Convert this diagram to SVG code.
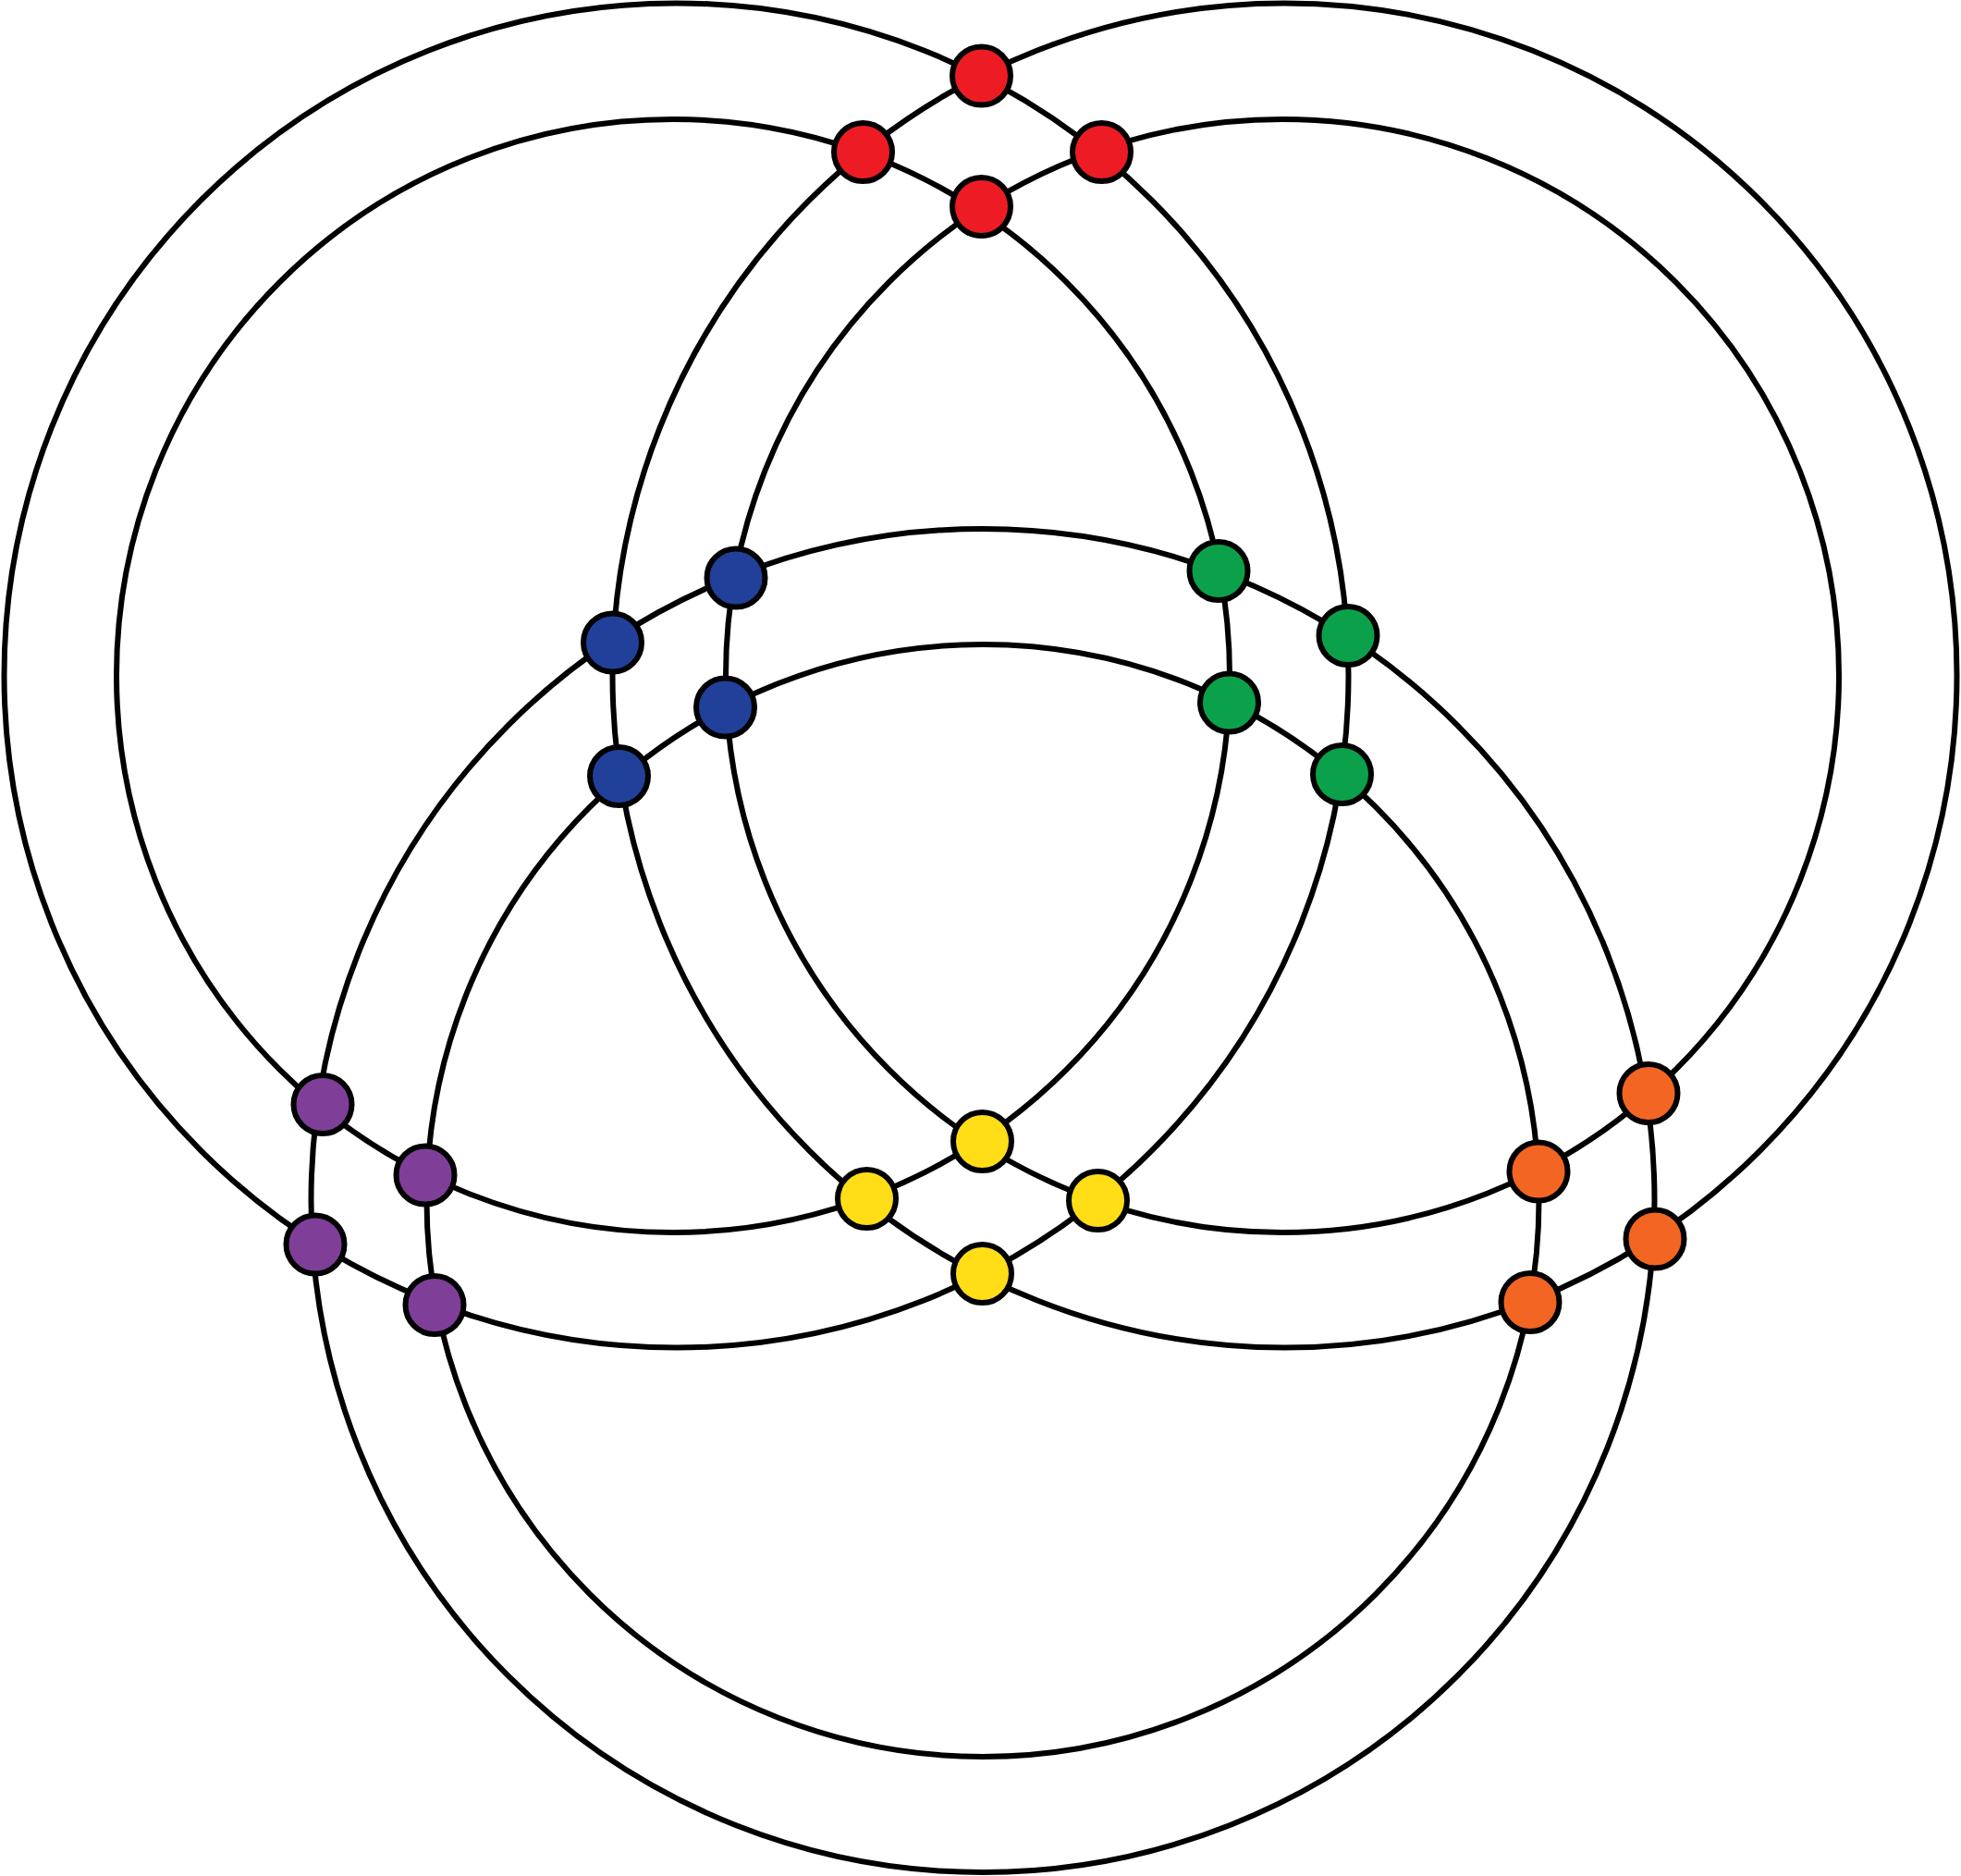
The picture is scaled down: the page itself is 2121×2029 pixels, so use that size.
<svg xmlns="http://www.w3.org/2000/svg" width="2121" height="2029" viewBox="0 0 2121 2029">
<style>
.ring{fill:none;stroke:#000;stroke-width:6}
.n{stroke:#000;stroke-width:6}
.red{fill:#ED1C24}.blue{fill:#21409A}.green{fill:#0BA14B}.yellow{fill:#FFDE17}.orange{fill:#F26522}.purple{fill:#7F3F98}
</style>
<rect width="2121" height="2029" fill="#fff"/>
<g id="connectors">
<circle class="ring" cx="731.5" cy="730.5" r="727"/>
<circle class="ring" cx="728" cy="731" r="602"/>
<circle class="ring" cx="1389.5" cy="730.5" r="727"/>
<circle class="ring" cx="1387" cy="731" r="602"/>
<circle class="ring" cx="1063" cy="1298.5" r="726.5"/>
<circle class="ring" cx="1063" cy="1298.5" r="601.5"/>
</g>
<g id="red-nodes">
<circle id="r1" class="n red" cx="1061.5" cy="82" r="31.5"/>
<circle id="r2" class="n red" cx="933.5" cy="164.5" r="31.5"/>
<circle id="r3" class="n red" cx="1191.5" cy="164.5" r="31.5"/>
<circle id="r4" class="n red" cx="1061.5" cy="223.5" r="31.5"/>
</g>
<g id="blue-nodes">
<circle id="b1" class="n blue" cx="796" cy="625" r="31.5"/>
<circle id="b2" class="n blue" cx="662.5" cy="695" r="31.5"/>
<circle id="b3" class="n blue" cx="784.5" cy="765" r="31.5"/>
<circle id="b4" class="n blue" cx="669.5" cy="839.5" r="31.5"/>
</g>
<g id="green-nodes">
<circle id="g1" class="n green" cx="1318" cy="617.5" r="31.5"/>
<circle id="g2" class="n green" cx="1458" cy="687.5" r="31.5"/>
<circle id="g3" class="n green" cx="1329.5" cy="760" r="31.5"/>
<circle id="g4" class="n green" cx="1451.5" cy="837.5" r="31.5"/>
</g>
<g id="purple-nodes">
<circle id="p1" class="n purple" cx="349" cy="1194.5" r="31.5"/>
<circle id="p2" class="n purple" cx="460" cy="1271" r="31.5"/>
<circle id="p3" class="n purple" cx="341" cy="1346" r="31.5"/>
<circle id="p4" class="n purple" cx="470" cy="1411.5" r="31.5"/>
</g>
<g id="yellow-nodes">
<circle id="y1" class="n yellow" cx="1062.5" cy="1234.5" r="31.5"/>
<circle id="y2" class="n yellow" cx="937.5" cy="1296.5" r="31.5"/>
<circle id="y3" class="n yellow" cx="1187.5" cy="1298.5" r="31.5"/>
<circle id="y4" class="n yellow" cx="1062.5" cy="1377.5" r="31.5"/>
</g>
<g id="orange-nodes">
<circle id="o1" class="n orange" cx="1783" cy="1182.5" r="31.5"/>
<circle id="o2" class="n orange" cx="1664" cy="1267" r="31.5"/>
<circle id="o3" class="n orange" cx="1790" cy="1340" r="31.5"/>
<circle id="o4" class="n orange" cx="1655" cy="1408.5" r="31.5"/>
</g>
</svg>
